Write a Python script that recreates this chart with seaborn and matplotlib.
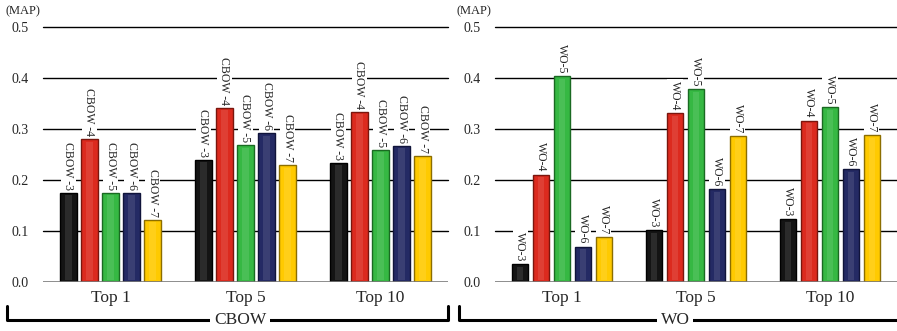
import matplotlib
matplotlib.use("Agg")
import matplotlib.pyplot as plt
from matplotlib.lines import Line2D
import numpy as np
import pandas as pd
import seaborn as sns

GROUPS = ["Top 1", "Top 5", "Top 10"]
CBOW_MODELS = ["CBOW -3", "CBOW -4", "CBOW -5", "CBOW -6", "CBOW -7"]
WO_MODELS = ["WO-3", "WO-4", "WO-5", "WO-6", "WO-7"]

# rows: model, cols: Top 1 / Top 5 / Top 10
CBOW_MAP = [
    [0.175, 0.240, 0.234],
    [0.280, 0.342, 0.334],
    [0.175, 0.268, 0.259],
    [0.175, 0.292, 0.267],
    [0.122, 0.229, 0.247],
]
WO_MAP = [
    [0.035, 0.102, 0.123],
    [0.210, 0.331, 0.316],
    [0.403, 0.378, 0.343],
    [0.069, 0.182, 0.221],
    [0.088, 0.286, 0.288],
]
COLORS = ["#141414", "#dc2a1e", "#36b843", "#242a64", "#ffca00"]
EDGES = ["#000000", "#7a160e", "#1a6a22", "#10143a", "#8c6e00"]


def long_form(models, values):
    rows = []
    for m, vals in zip(models, values):
        for g, v in zip(GROUPS, vals):
            rows.append({"group": g, "model": m, "map": v})
    return pd.DataFrame(rows)


sns.set_theme(style="white")
plt.rcParams["font.family"] = ["Liberation Serif", "DejaVu Serif"]

fig = plt.figure(figsize=(8.97, 3.31), dpi=100)
ax_l = fig.add_axes([43 / 897, 1 - 282 / 331, 405 / 897, 255 / 331])
ax_r = fig.add_axes([495 / 897, 1 - 282 / 331, 402 / 897, 255 / 331])


def draw_panel(ax, models, values, map_x):
    df = long_form(models, values)
    sns.barplot(data=df, x="group", y="map", hue="model", order=GROUPS,
                hue_order=models, palette=COLORS, saturation=1, width=0.78,
                gap=0.22, legend=False, ax=ax, zorder=3)
    for i, p in enumerate(ax.patches[:len(models) * len(GROUPS)]):
        mi = i // len(GROUPS)
        p.set_edgecolor(EDGES[mi])
        p.set_linewidth(1.0)
        x0, w, h = p.get_x(), p.get_width(), p.get_height()
        # light bevel highlight strip
        ax.add_patch(plt.Rectangle((x0 + w * 0.3, 0.003), w * 0.4, h - 0.008,
                                   facecolor="white", alpha=0.10, lw=0, zorder=4))
        ax.text(x0 + w / 2, h + 0.006, models[mi], rotation=270,
                ha="center", va="bottom", fontsize=8.5, zorder=5,
                bbox=dict(facecolor="white", edgecolor="none", pad=1.2))
    ax.set_xlim(-0.5, 2.5)
    ax.set_ylim(0, 0.5)
    ax.set_yticks([0.0, 0.1, 0.2, 0.3, 0.4, 0.5])
    ax.set_yticklabels(["0.0", "0.1", "0.2", "0.3", "0.4", "0.5"], fontsize=10)
    for yv in [0.1, 0.2, 0.3, 0.4, 0.5]:
        ax.axhline(yv, color="black", lw=1.0, zorder=1, clip_on=False)
    ax.axhline(0.0, color="#7a7a7a", lw=1.2, zorder=6)
    for s in ax.spines.values():
        s.set_visible(False)
    ax.tick_params(axis="y", length=0, pad=10)
    ax.tick_params(axis="x", length=0, pad=6, labelsize=12.5)
    ax.set_xlabel("")
    ax.set_ylabel("")
    ax.text(map_x, 1.062, "(MAP)", transform=ax.transAxes, fontsize=9,
            ha="left", va="center")


draw_panel(ax_l, CBOW_MODELS, CBOW_MAP, -0.092)
draw_panel(ax_r, WO_MODELS, WO_MAP, -0.097)


def bracket(x0, x1, label, xl):
    y = 1 - 320 / 331
    yt = 1 - 306 / 331
    fig.add_artist(Line2D([x0 / 897, x0 / 897, x1 / 897, x1 / 897],
                          [yt, y, y, yt], color="black", lw=2.2))
    fig.text(xl / 897, y, label, ha="center", va="center", fontsize=12.5,
             bbox=dict(facecolor="white", edgecolor="none", pad=2.5))


bracket(7, 448, "CBOW", 240)
bracket(459, 905, "WO", 675)

fig.savefig("out.png", dpi=100)
